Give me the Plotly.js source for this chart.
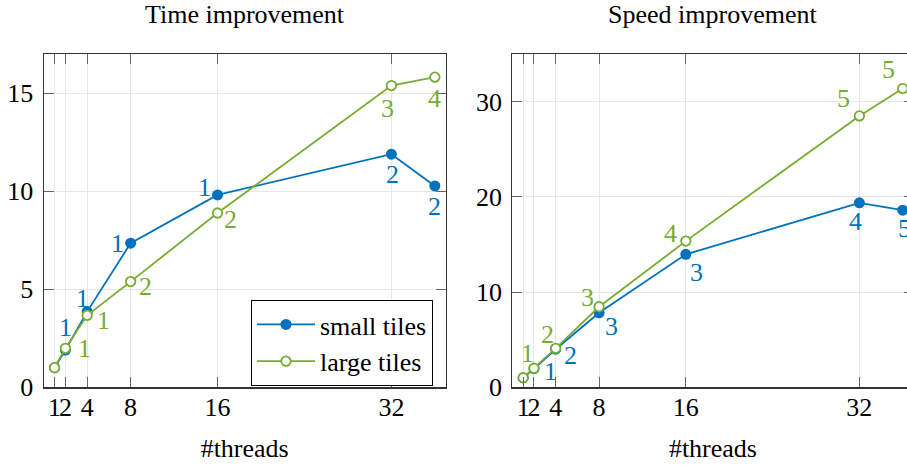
<!DOCTYPE html>
<html>
<head>
<meta charset="utf-8">
<script src="https://cdn.plot.ly/plotly-3.0.1.min.js"></script>
<style>
html, body { margin: 0; padding: 0; overflow: hidden; background: #fff; }
#chart { width: 915px; height: 466px; }
</style>
</head>
<body>
<div id="chart"></div>
<script>
// ---- data ----
const threads = [1, 2, 4, 8, 16, 32, 36];
const xTickVals = [1, 2, 4, 8, 16, 32];
const timeSmall = [1, 1.9, 3.86, 7.35, 9.81, 11.89, 10.27];
const timeLarge = [1, 1.99, 3.67, 5.39, 8.89, 15.39, 15.82];
const speedSmall = [1, 1.95, 4.0, 7.83, 13.96, 19.37, 18.6];
const speedLarge = [1, 2.0, 4.09, 8.46, 15.35, 28.5, 31.37];
const timeSmallLabels = ['', '1', '1', '1', '1', '2', '2'];
const timeLargeLabels = ['', '1', '1', '2', '2', '3', '4'];
const speedSmallLabels = ['', '1', '2', '3', '3', '4', '5'];
const speedLargeLabels = ['', '1', '2', '3', '4', '5', '5'];
const timeYTicks = [0, 5, 10, 15];
const speedYTicks = [0, 10, 20, 30];
const seriesNames = ['small tiles', 'large tiles'];
const titles = ['Time improvement', 'Speed improvement'];
const xTitle = '#threads';

// ---- style ----
const BLUE = '#0072BD';
const GREEN = '#77AC30';
const FONT = 'Liberation Serif';
const FS = 26;
const W = 915, H = 466;
// label offsets in px (dx right, dy down)
const timeSmallOff = [null, [0, -23], [-5, -13], [-13, 0], [-13, -7], [1, 20], [0, 21]];
const timeLargeOff = [null, [19, 0], [16, 5], [15, 5], [13, 6], [-4, 23], [0, 21]];
const speedSmallOff = [null, [17, 3], [15, 6], [12, 14], [11, 18], [-4, 19], [2, 18]];
const speedLargeOff = [null, [-6, -15], [-8, -14], [-12, -9], [-15, -8], [-16, -17], [-14, -19]];

function smallTrace(y, xa, ya, show) {
  return {x: threads, y: y, xaxis: xa, yaxis: ya, type: 'scatter', mode: 'lines+markers',
    name: seriesNames[0], showlegend: show, legendrank: 1,
    line: {color: BLUE, width: 1.8},
    marker: {color: BLUE, size: 11, symbol: 'circle', line: {width: 0}}};
}
function largeTrace(y, xa, ya, show) {
  return {x: threads, y: y, xaxis: xa, yaxis: ya, type: 'scatter', mode: 'lines+markers',
    name: seriesNames[1], showlegend: show, legendrank: 2,
    line: {color: GREEN, width: 1.8},
    marker: {color: '#ffffff', size: 9.5, symbol: 'circle', line: {color: GREEN, width: 1.8}}};
}

const data = [
  smallTrace(timeSmall, 'x', 'y', true),
  largeTrace(timeLarge, 'x', 'y', true),
  smallTrace(speedSmall, 'x2', 'y2', false),
  largeTrace(speedLarge, 'x2', 'y2', false)
];

const annotations = [];
function addLabels(ys, labels, offs, color, xr, yr) {
  for (let i = 0; i < threads.length; i++) {
    if (!labels[i]) continue;
    annotations.push({x: threads[i], y: ys[i], xref: xr, yref: yr, text: labels[i],
      showarrow: false, xanchor: 'center', yanchor: 'middle',
      xshift: offs[i][0], yshift: -offs[i][1],
      font: {family: FONT, size: FS, color: color}});
  }
}
addLabels(timeSmall, timeSmallLabels, timeSmallOff, BLUE, 'x', 'y');
addLabels(timeLarge, timeLargeLabels, timeLargeOff, GREEN, 'x', 'y');
addLabels(speedSmall, speedSmallLabels, speedSmallOff, BLUE, 'x2', 'y2');
addLabels(speedLarge, speedLargeLabels, speedLargeOff, GREEN, 'x2', 'y2');

const xd1 = [43.7 / W, 445.7 / W];
const xd2 = [512.3 / W, 913.6 / W];
const yd = [(H - 387.3) / H, (H - 54) / H];

annotations.push({x: 244.5 / W, y: (H - 15) / H, xref: 'paper', yref: 'paper',
  text: titles[0], showarrow: false, xanchor: 'center', yanchor: 'middle',
  font: {family: FONT, size: FS, color: '#000'}});
annotations.push({x: 712 / W, y: (H - 15) / H, xref: 'paper', yref: 'paper',
  text: titles[1], showarrow: false, xanchor: 'center', yanchor: 'middle',
  font: {family: FONT, size: FS, color: '#000'}});

function xAxis(domain, anchor) {
  return {domain: domain, anchor: anchor, range: [0, 37], tickmode: 'array', tickvals: xTickVals,
    ticktext: xTickVals.map(String), tickangle: 0, ticks: 'inside', ticklen: 10, tickwidth: 1,
    tickcolor: '#666', showline: true, linecolor: '#333', linewidth: 1.2, mirror: 'ticks',
    showgrid: true, gridcolor: '#e6e6e6', gridwidth: 1, zeroline: false,
    ticklabelstandoff: -4,
    tickfont: {family: FONT, size: FS, color: '#000'},
    title: {text: xTitle, font: {family: FONT, size: FS, color: '#000'}, standoff: 18},
    automargin: false, fixedrange: true};
}
function yAxis(domain, anchor, range, ticks) {
  return {domain: domain, anchor: anchor, range: range, tickmode: 'array', tickvals: ticks,
    ticktext: ticks.map(String), ticks: 'inside', ticklen: 10, tickwidth: 1,
    tickcolor: '#666', showline: true, linecolor: '#333', linewidth: 1.2, mirror: 'ticks',
    showgrid: true, gridcolor: '#e6e6e6', gridwidth: 1, zeroline: false,
    ticklabelstandoff: 4,
    tickfont: {family: FONT, size: FS, color: '#000'}, automargin: false, fixedrange: true};
}

const layout = {
  width: W, height: H,
  margin: {l: 0, r: 0, t: 0, b: 0},
  paper_bgcolor: '#ffffff', plot_bgcolor: '#ffffff',
  font: {family: FONT, size: FS, color: '#000'},
  xaxis: xAxis(xd1, 'y'),
  yaxis: yAxis(yd, 'x', [0, 17], timeYTicks),
  xaxis2: xAxis(xd2, 'y2'),
  yaxis2: yAxis(yd, 'x2', [0, 35], speedYTicks),
  showlegend: true,
  legend: {x: 433 / W, y: (H - 300) / H, xanchor: 'right', yanchor: 'top',
    bgcolor: '#ffffff', bordercolor: '#000', borderwidth: 1,
    font: {family: FONT, size: FS, color: '#000'}, itemwidth: 58, tracegroupgap: 0},
  annotations: annotations
};

Plotly.newPlot('chart', data, layout, {displayModeBar: false, staticPlot: true});
</script>
</body>
</html>
